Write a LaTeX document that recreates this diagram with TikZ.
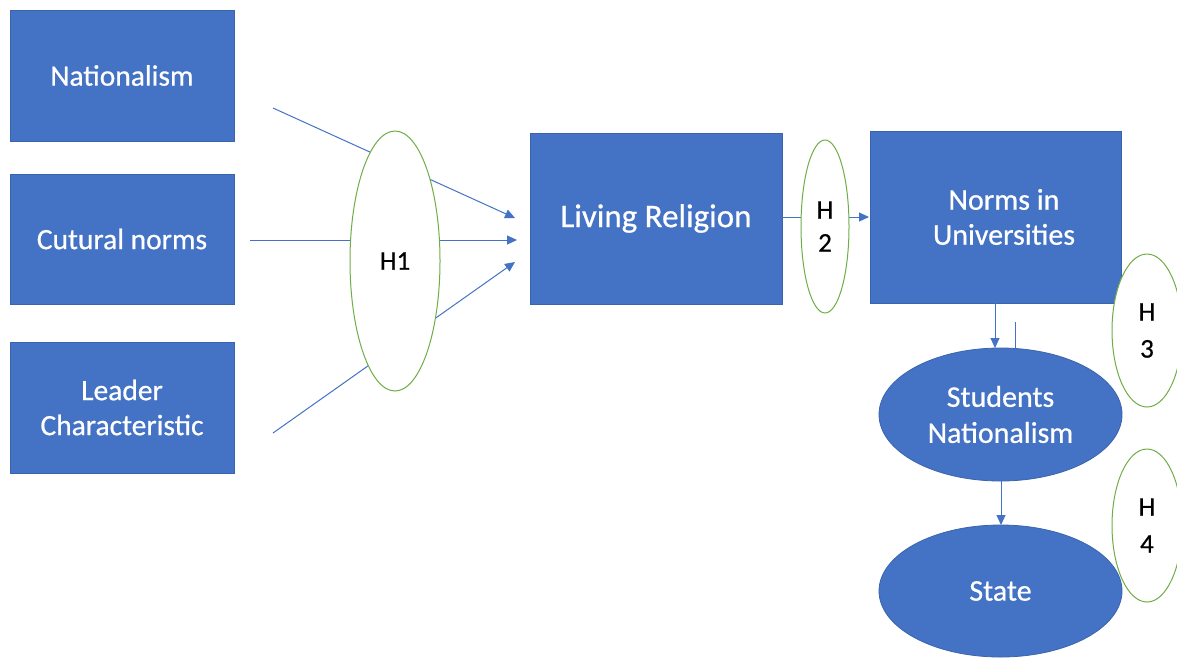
\documentclass[tikz,border=0pt]{standalone}
\usepackage{fontspec}
\setmainfont{Carlito}[FakeBold=0.6]
\usetikzlibrary{arrows.meta,shapes.geometric}
\definecolor{obox}{HTML}{4472C4}
\definecolor{oedge}{HTML}{3A64AE}
\definecolor{ogreen}{HTML}{70AD47}
\tikzset{
  box/.style={draw=oedge,fill=obox,line width=0.8pt,text=white,align=center,inner sep=0pt,font=\fontsize{29.5}{35}\selectfont},
  oval/.style={ellipse,draw=oedge,fill=obox,line width=0.8pt,text=white,align=center,inner sep=0pt,font=\fontsize{30}{36}\selectfont},
  hyp/.style={ellipse,draw=ogreen,line width=1pt,fill=white,align=center,inner sep=0pt,font=\fontsize{27}{37}\selectfont},
  conn/.style={draw=obox,line width=1pt},
  arr/.style={conn,-{Triangle[length=10pt,width=9pt]}}
}
\begin{document}
\begin{tikzpicture}[x=1pt,y=-1pt]
\useasboundingbox (0,0) rectangle (1177,657);
\fill[white] (0,0) rectangle (1177,657);
% boxes
\node[box,minimum width=224pt,minimum height=131pt] (nat) at (122,75.5) {Nationalism};
\node[box,minimum width=224pt,minimum height=130pt] (cul) at (122,239) {Cutural norms};
\node[box,minimum width=224pt,minimum height=131pt] (lea) at (122,407.5) {Leader\\Characteristic};
\node[box,minimum width=252pt,minimum height=171pt,font=\fontsize{33}{38}\selectfont] (liv) at (656,218.5) {Living Religion};
\node[box,minimum width=251pt,minimum height=172pt,anchor=north west] (nor) at (870,131) {};
\node[text=white,align=center,inner sep=0pt,font=\fontsize{30}{35}\selectfont] (nortxt) at (1004,217) {Norms in\\Universities};
\node[oval,minimum width=243pt,minimum height=133pt] (stu) at (1000.5,414.5) {Students\\Nationalism};
\node[oval,minimum width=243pt,minimum height=132pt] (sta) at (1000.5,591) {State};
% arrows into Living Religion
\coordinate (a1s) at (273,108);
\coordinate (a1e) at (515,218);
\coordinate (a2s) at (250,240);
\coordinate (a2e) at (517,240);
\coordinate (a3s) at (273,433);
\coordinate (a3e) at (515,262);
\draw[arr] (a1s) -- (a1e);
\draw[arr] (a2s) -- (a2e);
\draw[arr] (a3s) -- (a3e);
% H1
\node[hyp,minimum width=90pt,minimum height=260pt] (h1) at (395,261) {H1};
% H2
\coordinate (h2e) at (869,217);
\draw[arr] (liv.east |- h2e) -- (h2e);
\node[hyp,minimum width=48pt,minimum height=173pt,font=\fontsize{27}{33}\selectfont] (h2) at (825,226.5) {H\\2};
% vertical links
\coordinate (v1s) at (995,303);
\coordinate (v1e) at (995,348);
\draw[arr] (v1s) -- (v1e);
\coordinate (v2s) at (1015,322);
\coordinate (v2e) at (1015,349);
\draw[conn] (v2s) -- (v2e);
\coordinate (s2) at (1001,525);
\draw[arr] (stu.south -| s2) -- (s2);
% H3, H4
\node[hyp,minimum width=70pt,minimum height=153pt] (h3) at (1147,330.5) {H\\3};
\node[hyp,minimum width=70pt,minimum height=153pt] (h4) at (1147,525.5) {H\\4};
\end{tikzpicture}
\end{document}
